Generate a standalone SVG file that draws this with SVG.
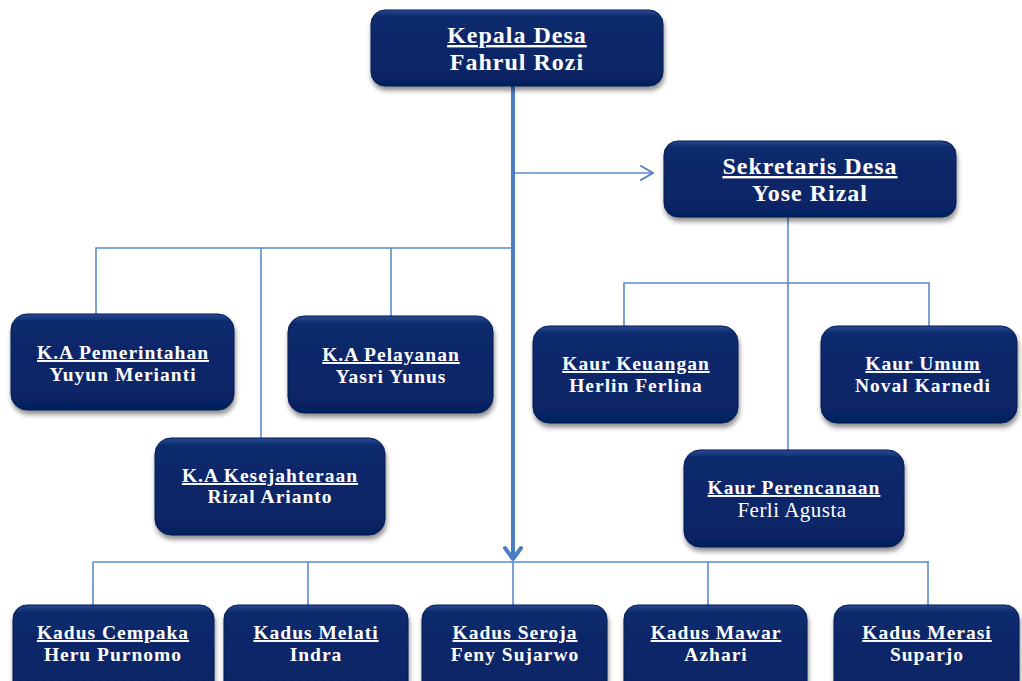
<svg xmlns="http://www.w3.org/2000/svg" width="1022" height="681" viewBox="0 0 1022 681">
<defs>
<linearGradient id="g" x1="0" y1="0" x2="0" y2="1">
<stop offset="0" stop-color="#2a4a92"/>
<stop offset="0.08" stop-color="#0b2a6d"/>
<stop offset="0.9" stop-color="#072465"/>
<stop offset="1" stop-color="#05205a"/>
</linearGradient>
<filter id="sh" x="-10%" y="-10%" width="120%" height="130%">
<feGaussianBlur in="SourceAlpha" stdDeviation="2.5"/>
<feOffset dx="1" dy="4" result="b"/>
<feComponentTransfer><feFuncA type="linear" slope="0.45"/></feComponentTransfer>
<feMerge><feMergeNode/><feMergeNode in="SourceGraphic"/></feMerge>
</filter>
<marker id="right" viewBox="0 0 14 16" refX="13" refY="8" markerWidth="14" markerHeight="16" markerUnits="userSpaceOnUse" orient="auto">
<path d="M1 1 L13 8 L1 15" fill="none" stroke="#4f81bd" stroke-width="2" stroke-linecap="round"/>
</marker>
</defs>
<style>
.box{fill:url(#g);stroke:#041c52;stroke-width:1;filter:url(#sh)}
.t{font-family:"Liberation Serif","Times New Roman",serif;font-weight:bold;fill:#ffffff;text-anchor:middle}
.big{font-size:24px;letter-spacing:1px}
.sm{font-size:19.5px;letter-spacing:1px}
.u{text-decoration:underline}
.reg{font-weight:normal;font-size:21px;letter-spacing:0.5px}
.ln{fill:none;stroke:#5b8bc8;stroke-width:1.6}
</style>
<rect width="1022" height="681" fill="#ffffff"/>
<g id="connectors">
<line class="ln" x1="513" y1="173" x2="653" y2="173" marker-end="url(#right)"/>
<polyline class="ln" points="96,314 96,248 513,248"/>
<line class="ln" x1="261" y1="248" x2="261" y2="438"/>
<line class="ln" x1="391" y1="248" x2="391" y2="316"/>
<line class="ln" x1="788" y1="217" x2="788" y2="450"/>
<polyline class="ln" points="624,326 624,283 929,283 929,326"/>
<line class="ln" x1="93" y1="562" x2="929" y2="562"/>
<line class="ln" x1="93" y1="562" x2="93" y2="605"/>
<line class="ln" x1="308" y1="562" x2="308" y2="605"/>
<line class="ln" x1="513" y1="562" x2="513" y2="605"/>
<line class="ln" x1="708" y1="562" x2="708" y2="605"/>
<line class="ln" x1="928" y1="562" x2="928" y2="605"/>
<line x1="513" y1="86" x2="513" y2="558" stroke="#4a7ebf" stroke-width="4"/>
<path d="M505 548 L513 559 L521 548" fill="none" stroke="#4a7ebf" stroke-width="4" stroke-linecap="round" stroke-linejoin="round"/>
</g>
<g id="kepala"><rect class="box" x="371" y="10" width="292" height="76" rx="14"/>
<text class="t big u" x="517" y="43">Kepala Desa</text><text class="t big" x="517" y="70">Fahrul Rozi</text></g>
<g id="sekretaris"><rect class="box" x="664" y="141" width="292" height="76" rx="14"/>
<text class="t big u" x="810" y="174">Sekretaris Desa</text><text class="t big" x="810" y="201">Yose Rizal</text></g>
<g id="pemerintahan"><rect class="box" x="11" y="314" width="223" height="96" rx="16"/>
<text class="t sm u" x="123" y="359">K.A Pemerintahan</text><text class="t sm" x="123" y="381">Yuyun Merianti</text></g>
<g id="pelayanan"><rect class="box" x="288" y="316" width="205" height="97" rx="16"/>
<text class="t sm u" x="391" y="361">K.A Pelayanan</text><text class="t sm" x="391" y="383">Yasri Yunus</text></g>
<g id="kesejahteraan"><rect class="box" x="155" y="438" width="230" height="97" rx="16"/>
<text class="t sm u" x="270" y="482">K.A Kesejahteraan</text><text class="t sm" x="270" y="503">Rizal Arianto</text></g>
<g id="keuangan"><rect class="box" x="533" y="326" width="205" height="97" rx="16"/>
<text class="t sm u" x="636" y="370">Kaur Keuangan</text><text class="t sm" x="636" y="392">Herlin Ferlina</text></g>
<g id="umum"><rect class="box" x="821" y="326" width="196" height="97" rx="16"/>
<text class="t sm u" x="923" y="370">Kaur Umum</text><text class="t sm" x="923" y="392">Noval Karnedi</text></g>
<g id="perencanaan"><rect class="box" x="684" y="450" width="220" height="97" rx="16"/>
<text class="t sm u" x="794" y="494">Kaur Perencanaan</text><text class="t reg" x="792" y="517">Ferli Agusta</text></g>
<g id="cempaka"><rect class="box" x="13" y="605" width="201" height="90" rx="14"/>
<text class="t sm u" x="113" y="639">Kadus Cempaka</text><text class="t sm" x="113" y="661">Heru Purnomo</text></g>
<g id="melati"><rect class="box" x="224" y="605" width="184" height="90" rx="14"/>
<text class="t sm u" x="316" y="639">Kadus Melati</text><text class="t sm" x="316" y="661">Indra</text></g>
<g id="seroja"><rect class="box" x="422" y="605" width="185" height="90" rx="14"/>
<text class="t sm u" x="515" y="639">Kadus Seroja</text><text class="t sm" x="515" y="661">Feny Sujarwo</text></g>
<g id="mawar"><rect class="box" x="624" y="605" width="183" height="90" rx="14"/>
<text class="t sm u" x="716" y="639">Kadus Mawar</text><text class="t sm" x="716" y="661">Azhari</text></g>
<g id="merasi"><rect class="box" x="834" y="605" width="185" height="90" rx="14"/>
<text class="t sm u" x="927" y="639">Kadus Merasi</text><text class="t sm" x="927" y="661">Suparjo</text></g>
</svg>
